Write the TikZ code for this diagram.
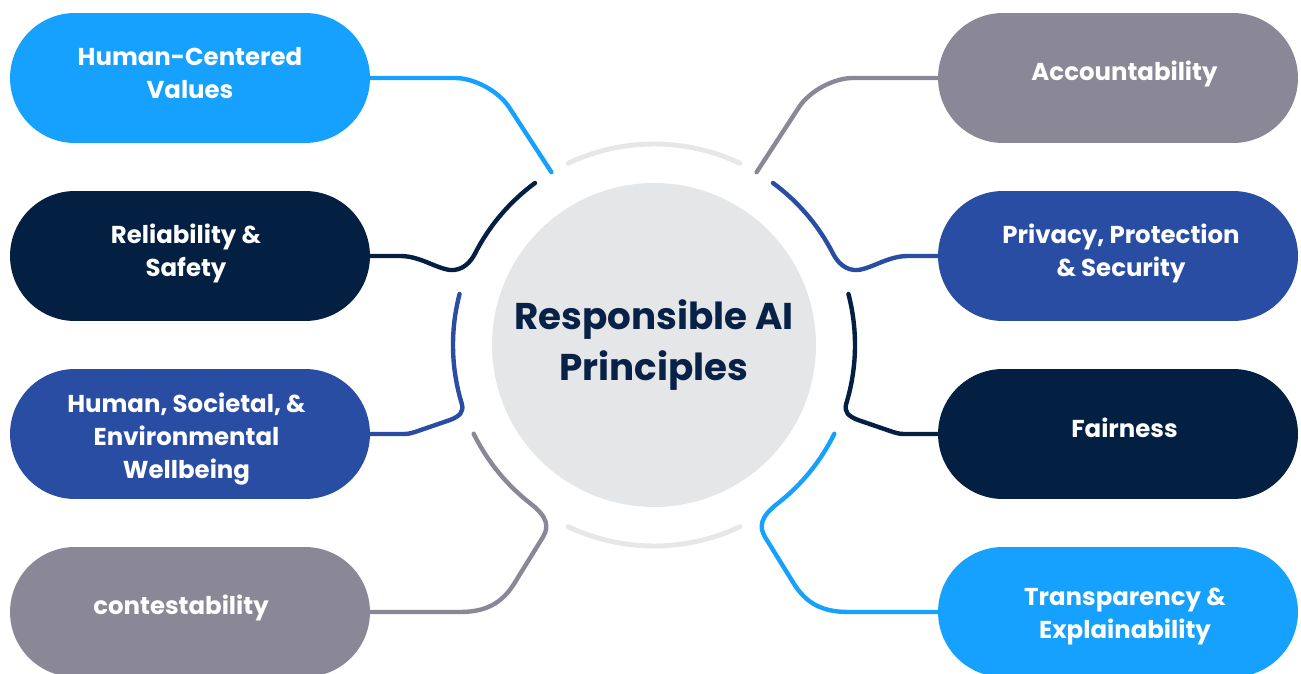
\documentclass[tikz,border=0pt]{standalone}
\usepackage{fontspec}
\setmainfont{Poppins}
\usetikzlibrary{shapes.misc,calc}
\definecolor{lblue}{RGB}{22,161,255}
\definecolor{navy}{RGB}{3,31,66}
\definecolor{rblue}{RGB}{42,77,164}
\definecolor{pgray}{RGB}{138,136,151}
\definecolor{cfill}{RGB}{229,230,232}
\definecolor{agray}{RGB}{230,231,233}
\definecolor{ctext}{RGB}{8,33,70}
% #1 horizontal shift (px), #2 vertical shift (px), #3 lines
\newcommand\pilltext[3]{\raisebox{#2\dimexpr0.02cm\relax}[\height][\depth]{\hspace*{#1\dimexpr0.04cm\relax}\begin{tabular}{@{}c@{}}#3\end{tabular}}}
\tikzset{
  pill/.style={rounded rectangle, minimum width=7.2cm, minimum height=2.6cm, inner sep=0pt,
    text=white, font=\fontsize{13.9}{18.8}\selectfont\bfseries},
  conn/.style={line width=2.5pt, line cap=round, line join=round},
  ringarc/.style={line width=2.8pt, line cap=round, draw=agray},
}
\begin{document}
\begin{tikzpicture}[x=0.02cm, y=0.02cm]
\useasboundingbox (0,0) rectangle (1301,673);
\clip (0,0) rectangle (1301,673);
\coordinate (C) at (654,328);
% centre
\node[circle, fill=cfill, minimum size=6.48cm, inner sep=0pt, text=ctext, align=center,
  font=\fontsize{21.2}{29.3}\selectfont\bfseries] (ctr) at (C) {Responsible AI\\Principles};
\draw[ringarc] ($(C)+(64.7:201)$) arc[start angle=64.7, end angle=115.3, radius=4.02cm];
\draw[ringarc] ($(C)+(244.7:201)$) arc[start angle=244.7, end angle=295.3, radius=4.02cm];
% pills
\node[pill, fill=lblue] (hcv) at (190,595) {\pilltext{0}{3}{Human-Centered\\Values}};
\node[pill, fill=navy]  (rel) at (190,417) {\pilltext{-4}{2.5}{Reliability \&\\Safety}};
\node[pill, fill=rblue] (hsw) at (190,239) {\pilltext{-3.5}{-5}{Human, Societal, \&\\Environmental\\Wellbeing}};
\node[pill, fill=pgray] (con) at (190,61)  {\pilltext{-9}{4}{contestability}};
\node[pill, fill=pgray] (acc) at (1118,595) {\pilltext{6.5}{4}{Accountability}};
\node[pill, fill=rblue] (pri) at (1118,417) {\pilltext{3}{3}{Privacy, Protection\\\& Security}};
\node[pill, fill=navy]  (fai) at (1118,239) {\pilltext{6.5}{3}{Fairness}};
\node[pill, fill=lblue] (tra) at (1118,61)  {\pilltext{7}{-3.5}{Transparency \&\\Explainability}};
% connector ends on the ring
\coordinate (e1) at ($(C)+(120.7:201)$);
\coordinate (e2) at ($(C)+(59.3:201)$);
\coordinate (e3) at ($(C)+(126.3:201)$);
\coordinate (e4) at ($(C)+(53.7:201)$);
\coordinate (e5) at ($(C)+(165.3:201)$);
\coordinate (e6) at ($(C)+(14.7:201)$);
\coordinate (e7) at ($(C)+(206.2:201)$);
\coordinate (e8) at ($(C)+(-26.2:201)$);
% connectors
\draw[conn, draw=lblue, rounded corners=0.7cm] (hcv.east) -- (490,595) -- (e1);
\draw[conn, draw=pgray, rounded corners=0.7cm] (acc.west) -- (818,595) -- (e2);
\draw[conn, draw=navy] (e3) arc[start angle=126.3, end angle=153, radius=4.02cm]
  .. controls (470.4,410.4) and (462,402) .. (450,403)
  .. controls (435,405) and (420,417) .. (400,417) -- (rel.east);
\draw[conn, draw=rblue] (e4) arc[start angle=53.7, end angle=27, radius=4.02cm]
  .. controls (837.6,410.4) and (846,402) .. (858,403)
  .. controls (873,405) and (888,417) .. (908,417) -- (pri.west);
\draw[conn, draw=rblue] (e5) arc[start angle=165.3, end angle=197, radius=4.02cm]
  .. controls (464,261) and (460,257) .. (450,253) -- (415,241)
  .. controls (408,239) .. (400,239) -- (hsw.east);
\draw[conn, draw=navy] (e6) arc[start angle=14.7, end angle=-17, radius=4.02cm]
  .. controls (844,261) and (848,257) .. (858,253) -- (893,241)
  .. controls (900,239) .. (908,239) -- (fai.west);
\draw[conn, draw=pgray] (e7) arc[start angle=206.2, end angle=232, radius=4.02cm]
  .. controls (548,156) and (549,146) .. (543,136) -- (517,94)
  .. controls (505,73) and (490,61) .. (460,61) -- (con.east);
\draw[conn, draw=lblue] (e8) arc[start angle=-26.2, end angle=-52, radius=4.02cm]
  .. controls (760,156) and (759,146) .. (765,136) -- (791,94)
  .. controls (803,73) and (818,61) .. (848,61) -- (tra.west);
\end{tikzpicture}
\end{document}
